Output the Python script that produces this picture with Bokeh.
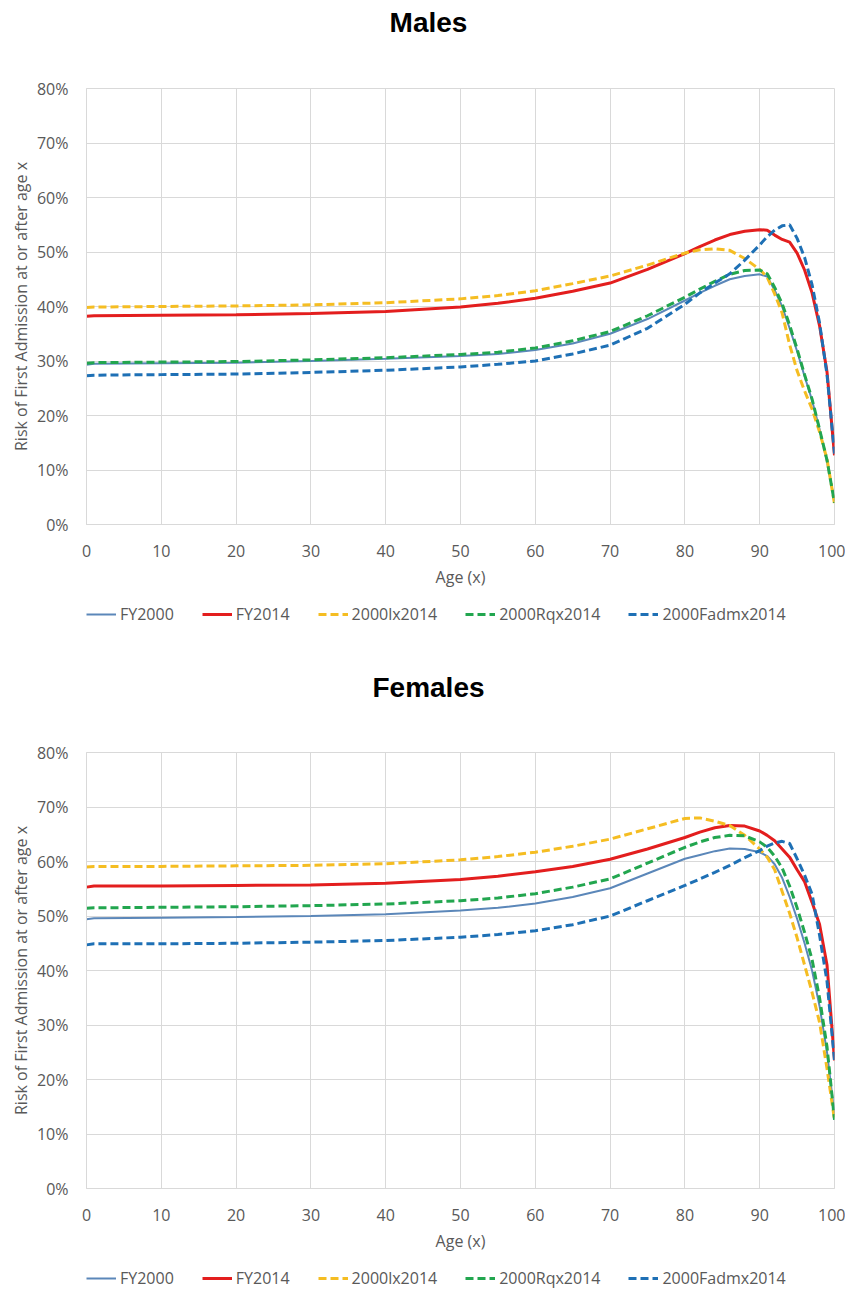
from bokeh.plotting import figure
from bokeh.models import Legend, LegendItem, PrintfTickFormatter, FixedTicker, Range1d, Label
from bokeh.layouts import column
from bokeh.embed import file_html
from bokeh.resources import INLINE

ages = [0, 1, 10, 20, 30, 40, 50, 55, 60, 65, 70, 75, 80, 82, 84, 86, 88, 90, 91, 92, 93, 94, 95, 96, 97, 98, 99, 100]

series_names = ["FY2000", "FY2014", "2000lx2014", "2000Rqx2014", "2000Fadmx2014"]

# Males (%)
m_fy2000 = [29.3, 29.5, 29.6, 29.7, 30.0, 30.4, 30.9, 31.3, 32.0, 33.2, 35.0, 37.7, 41.1, 42.5, 43.8, 45.0, 45.6, 45.9, 45.5, 43.0, 40.0, 36.0, 31.8, 27.2, 22.8, 17.5, 11.5, 4.3]
m_fy2014 = [38.2, 38.3, 38.4, 38.5, 38.7, 39.1, 39.9, 40.6, 41.5, 42.8, 44.3, 46.8, 49.7, 51.0, 52.2, 53.2, 53.8, 54.1, 54.0, 53.1, 52.3, 51.8, 49.8, 46.7, 42.5, 36.5, 28.0, 12.7]
m_lx = [39.8, 39.9, 40.0, 40.1, 40.3, 40.7, 41.4, 42.0, 42.9, 44.2, 45.6, 47.6, 49.8, 50.4, 50.6, 50.3, 48.8, 46.8, 45.4, 42.3, 38.8, 33.0, 28.2, 24.5, 21.2, 17.0, 12.0, 3.8]
m_rqx = [29.6, 29.7, 29.8, 29.9, 30.2, 30.6, 31.2, 31.6, 32.4, 33.7, 35.4, 38.3, 41.7, 43.2, 44.6, 45.9, 46.6, 46.7, 46.0, 43.5, 40.5, 36.6, 32.2, 27.5, 23.0, 17.5, 11.8, 4.0]
m_fadmx = [27.3, 27.4, 27.5, 27.6, 27.9, 28.3, 28.9, 29.4, 30.0, 31.3, 32.9, 36.0, 40.4, 42.5, 44.3, 46.0, 48.5, 51.3, 52.8, 54.0, 54.8, 55.0, 52.5, 49.0, 44.0, 37.0, 27.5, 13.0]

# Females (%)
f_fy2000 = [49.4, 49.6, 49.7, 49.8, 50.0, 50.3, 51.0, 51.5, 52.3, 53.5, 55.1, 57.8, 60.5, 61.2, 61.9, 62.4, 62.3, 61.7, 61.0, 59.5, 57.0, 53.5, 49.5, 45.0, 40.0, 33.5, 25.0, 13.6]
f_fy2014 = [55.3, 55.5, 55.5, 55.6, 55.7, 56.0, 56.7, 57.3, 58.1, 59.1, 60.4, 62.3, 64.4, 65.4, 66.2, 66.6, 66.5, 65.6, 64.8, 63.8, 62.3, 60.8, 58.5, 56.3, 52.5, 48.5, 41.0, 23.5]
f_lx = [59.0, 59.1, 59.1, 59.2, 59.3, 59.6, 60.3, 60.9, 61.7, 62.8, 64.1, 66.0, 67.9, 68.0, 67.4, 66.6, 64.8, 62.3, 60.8, 58.5, 54.5, 50.5, 46.0, 41.0, 36.0, 30.5, 22.0, 12.6]
f_rqx = [51.4, 51.5, 51.6, 51.7, 51.9, 52.2, 52.8, 53.3, 54.1, 55.3, 56.8, 59.7, 62.6, 63.6, 64.4, 64.8, 64.7, 63.6, 62.6, 61.0, 58.8, 55.5, 51.5, 47.0, 42.0, 35.0, 26.0, 12.6]
f_fadmx = [44.7, 44.9, 44.9, 45.0, 45.2, 45.5, 46.1, 46.6, 47.3, 48.4, 50.0, 52.8, 55.6, 56.8, 58.0, 59.3, 60.7, 62.0, 62.8, 63.4, 63.7, 63.3, 60.5, 57.5, 54.0, 46.5, 38.0, 23.5]

x_ticks = [0, 10, 20, 30, 40, 50, 60, 70, 80, 90, 100]
y_ticks = [0, 10, 20, 30, 40, 50, 60, 70, 80]

colors = ["#5B87B9", "#E31E1E", "#F5BD22", "#22A64F", "#1E70B5"]
widths = [2, 3, 3, 3, 3]
dashes = ["solid", "solid", "8 4", "8 4", "8 4"]

GRID = "#D9D9D9"
TXT = "#595959"
FONT = "Open Sans"
FW, FH = 748, 436
LEFT, RIGHT = 86, 11
W = LEFT + FW + RIGHT


def blank_fig(height):
    f = figure(width=W, height=height, output_backend="svg", toolbar_location=None,
               x_axis_type=None, y_axis_type=None,
               x_range=Range1d(-2, -1), y_range=Range1d(-2, -1),
               min_border_left=LEFT, min_border_right=RIGHT,
               min_border_top=0, min_border_bottom=0)
    f.outline_line_color = None
    f.background_fill_color = "white"
    f.border_fill_color = "white"
    return f


def title_fig(title, height, y_center_from_top):
    f = blank_fig(height)
    f.add_layout(Label(x=428 - LEFT, y=height - y_center_from_top,
                       x_units="screen", y_units="screen",
                       text=title, text_align="center", text_baseline="middle",
                       text_font="Liberation Sans", text_font_size="28px",
                       text_font_style="bold", text_color="#000000"))
    return f


def legend_fig(data, height, bottom):
    f = blank_fig(height)
    items = []
    for name, vals, c, w, d in zip(series_names, data, colors, widths, dashes):
        # same series, outside the blank figure's visible range: only the legend glyph shows
        r = f.line(ages, vals, line_color=c, line_width=w, line_dash=d)
        items.append(LegendItem(label=name, renderers=[r]))
    legend = Legend(items=items, orientation="horizontal", location=(0, bottom),
                    label_text_font=FONT, label_text_font_size="16px", label_text_color=TXT,
                    glyph_width=30, glyph_height=20, label_height=20, label_standoff=4,
                    spacing=28, border_line_color=None, background_fill_alpha=0,
                    padding=0, margin=0)
    f.add_layout(legend, "center")
    return f


def main_fig(data):
    p = figure(frame_width=FW, frame_height=FH, output_backend="svg", toolbar_location=None,
               x_range=Range1d(0, 100), y_range=Range1d(0, 80),
               min_border_left=LEFT, min_border_right=RIGHT, min_border_top=12,
               min_border_bottom=70)
    p.outline_line_color = GRID
    p.background_fill_color = "white"
    p.border_fill_color = "white"

    for ax in (p.xaxis[0], p.yaxis[0]):
        ax.axis_line_color = GRID
        ax.major_tick_line_color = None
        ax.minor_tick_line_color = None
        ax.major_tick_out = 0
        ax.major_tick_in = 0
        ax.minor_tick_out = 0
        ax.major_label_text_font = FONT
        ax.major_label_text_font_size = "16px"
        ax.major_label_text_color = TXT
        ax.axis_label_text_font = FONT
        ax.axis_label_text_font_size = "16px"
        ax.axis_label_text_color = TXT
        ax.axis_label_text_font_style = "normal"

    p.xaxis.ticker = FixedTicker(ticks=x_ticks)
    p.yaxis.ticker = FixedTicker(ticks=y_ticks)
    p.yaxis.formatter = PrintfTickFormatter(format="%d%%")
    p.xaxis.axis_label = "Age (x)"
    p.yaxis.axis_label = "Risk of First Admission at or after age x"
    p.xaxis.major_label_standoff = 20
    p.yaxis.major_label_standoff = 18
    p.xaxis.axis_label_standoff = 6
    p.yaxis.axis_label_standoff = 2

    p.xgrid.grid_line_color = GRID
    p.ygrid.grid_line_color = GRID
    p.xgrid.ticker = FixedTicker(ticks=x_ticks)
    p.ygrid.ticker = FixedTicker(ticks=y_ticks)

    for vals, c, w, d in zip(data, colors, widths, dashes):
        p.line(ages, vals, line_color=c, line_width=w, line_dash=d)
    return p


males = [m_fy2000, m_fy2014, m_lx, m_rqx, m_fadmx]
females = [f_fy2000, f_fy2014, f_lx, f_rqx, f_fadmx]

t1 = title_fig("Males", 76, 22)
p1 = main_fig(males)
l1 = legend_fig(males, 71, 40)
t2 = title_fig("Females", 75, 22)
p2 = main_fig(females)
l2 = legend_fig(females, 34, 3)

layout = column(t1, p1, l1, t2, p2, l2, spacing=0)

open("out.html", "w").write(file_html(layout, INLINE))
